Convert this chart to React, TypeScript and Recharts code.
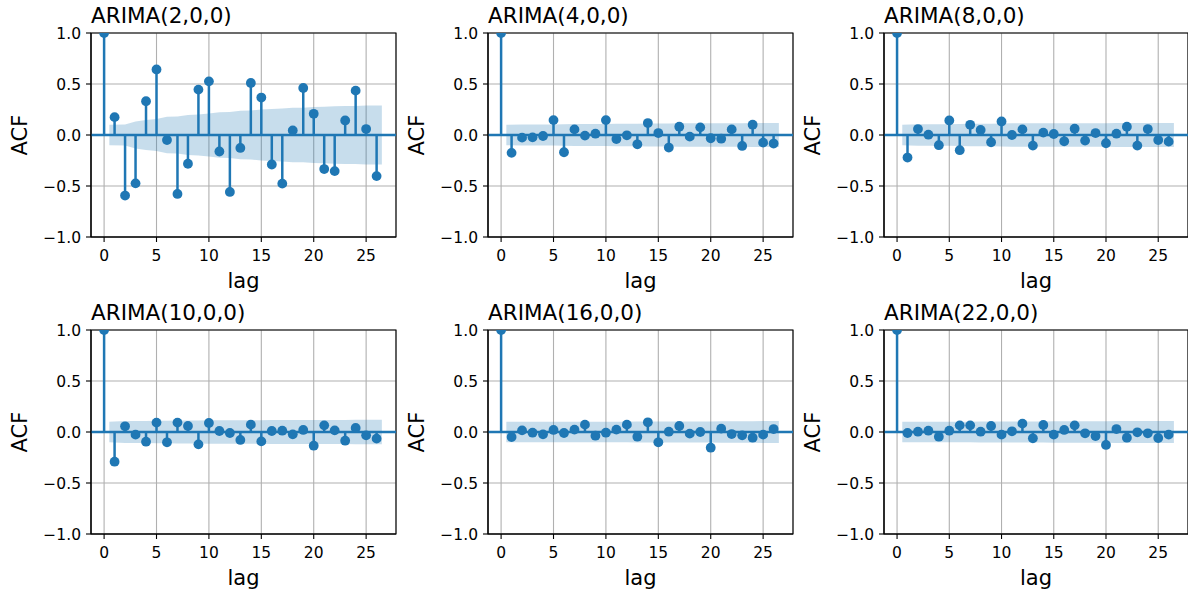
import React from 'react';
import { ComposedChart, Scatter, Area, XAxis, YAxis, CartesianGrid, ReferenceLine, ReferenceArea } from 'recharts';

const BLUE = '#1f77b4';
const FONT = '"DejaVu Sans", sans-serif';

const lags = [0, 1, 2, 3, 4, 5, 6, 7, 8, 9, 10, 11, 12, 13, 14, 15, 16, 17, 18, 19, 20, 21, 22, 23, 24, 25, 26];
const xTicks = [0, 5, 10, 15, 20, 25];
const yTicks = [-1, -0.5, 0, 0.5, 1];

const titles = ['ARIMA(2,0,0)', 'ARIMA(4,0,0)', 'ARIMA(8,0,0)', 'ARIMA(10,0,0)', 'ARIMA(16,0,0)', 'ARIMA(22,0,0)'];

// acf values, lags 0..26
const acf2 = [1, 0.175, -0.594, -0.474, 0.331, 0.643, -0.049, -0.578, -0.282, 0.445, 0.526, -0.162, -0.558, -0.127, 0.51, 0.367, -0.289, -0.477, 0.045, 0.461, 0.208, -0.334, -0.354, 0.143, 0.435, 0.058, -0.403];
const acf4 = [1, -0.175, -0.026, -0.023, -0.01, 0.146, -0.169, 0.055, -0.006, 0.013, 0.146, -0.039, -0.003, -0.091, 0.117, 0.019, -0.123, 0.081, -0.016, 0.075, -0.032, -0.036, 0.055, -0.107, 0.101, -0.075, -0.084];
const acf8 = [1, -0.221, 0.058, 0.003, -0.1, 0.143, -0.149, 0.1, 0.049, -0.071, 0.133, 0.0, 0.055, -0.104, 0.023, 0.01, -0.062, 0.062, -0.055, 0.019, -0.081, 0.013, 0.081, -0.104, 0.058, -0.049, -0.065];
const acf10 = [1, -0.291, 0.056, -0.026, -0.095, 0.092, -0.101, 0.092, 0.059, -0.121, 0.088, 0.01, -0.01, -0.078, 0.072, -0.092, 0.01, 0.013, -0.023, 0.02, -0.134, 0.065, 0.016, -0.085, 0.039, -0.033, -0.065];
const acf16 = [1, -0.049, 0.016, -0.007, -0.023, 0.02, -0.01, 0.023, 0.072, -0.036, -0.007, 0.023, 0.072, -0.046, 0.095, -0.101, 0.003, 0.059, -0.016, 0.0, -0.154, 0.033, -0.02, -0.033, -0.056, -0.026, 0.029];
const acf22 = [1, -0.01, 0.003, 0.013, -0.046, 0.013, 0.065, 0.065, 0.003, 0.059, -0.026, 0.007, 0.082, -0.062, 0.069, -0.026, 0.02, 0.065, -0.013, -0.039, -0.127, 0.029, -0.056, -0.003, -0.013, -0.059, -0.026];

// confidence band half width, lags 1..26
const band2 = [0.1, 0.103, 0.132, 0.148, 0.156, 0.18, 0.181, 0.197, 0.202, 0.212, 0.224, 0.226, 0.238, 0.24, 0.25, 0.255, 0.259, 0.267, 0.268, 0.275, 0.277, 0.281, 0.284, 0.285, 0.29, 0.29];
const band4 = [0.1, 0.103, 0.103, 0.103, 0.103, 0.106, 0.108, 0.108, 0.108, 0.108, 0.111, 0.111, 0.111, 0.112, 0.113, 0.113, 0.114, 0.115, 0.115, 0.115, 0.115, 0.115, 0.116, 0.117, 0.117, 0.117];
const band8 = [0.1, 0.105, 0.105, 0.105, 0.106, 0.108, 0.11, 0.111, 0.111, 0.112, 0.114, 0.114, 0.114, 0.115, 0.115, 0.115, 0.116, 0.116, 0.116, 0.116, 0.117, 0.117, 0.117, 0.118, 0.118, 0.118];
const band10 = [0.1, 0.109, 0.109, 0.109, 0.11, 0.111, 0.112, 0.113, 0.113, 0.114, 0.115, 0.115, 0.115, 0.115, 0.116, 0.117, 0.117, 0.117, 0.117, 0.117, 0.118, 0.118, 0.118, 0.119, 0.119, 0.119];
const band16 = [0.1, 0.1, 0.1, 0.1, 0.1, 0.1, 0.1, 0.1, 0.101, 0.101, 0.101, 0.101, 0.102, 0.102, 0.103, 0.104, 0.104, 0.104, 0.104, 0.104, 0.106, 0.106, 0.106, 0.106, 0.107, 0.107];
const band22 = [0.1, 0.1, 0.1, 0.1, 0.1, 0.101, 0.101, 0.102, 0.102, 0.103, 0.103, 0.103, 0.104, 0.104, 0.105, 0.105, 0.105, 0.106, 0.106, 0.106, 0.107, 0.107, 0.107, 0.107, 0.108, 0.108];

const acfs = [acf2, acf4, acf8, acf10, acf16, acf22];
const bands = [band2, band4, band8, band10, band16, band22];

// layout of the six axes
const colLeft = [91, 488, 884];
const colWidth = [305, 305, 304];
const rowTop = [33, 330];
const PLOT_H = 204;
const Y_W = 60;
const X_H = 60;
const M_T = 10;
const M_R = 6;
const X_DOMAIN = [-1.25, 27.85];

const fmt = (v: number) => v.toFixed(1).replace('-', '\u2212');

function AcfPanel({ title, acf, band, left, top, width }: { title: string; acf: number[]; band: number[]; left: number; top: number; width: number }) {
  const points = acf.map((v, i) => ({ lag: lags[i], acf: v }));
  const bandData = band.map((h, i) => {
    let x = lags[i + 1];
    if (i === 0) x -= 0.5;
    if (i === band.length - 1) x += 0.5;
    return { lag: x, range: [-h, h] };
  });

  return (
    <>
      <div style={{ position: 'absolute', left: left - Y_W, top: top - M_T }}>
        <ComposedChart
          width={Y_W + width + M_R}
          height={M_T + PLOT_H + X_H}
          margin={{ top: M_T, right: M_R, left: 0, bottom: 0 }}
        >
          <CartesianGrid stroke="#b0b0b0" strokeWidth={1.1} />
          <XAxis
            dataKey="lag"
            type="number"
            domain={X_DOMAIN}
            ticks={xTicks}
            allowDataOverflow
            height={X_H}
            tickSize={5}
            tickMargin={8}
            tick={{ fontSize: 15.5, fill: '#000', fontFamily: FONT }}
            axisLine={{ stroke: '#000', strokeWidth: 1.1 }}
            tickLine={{ stroke: '#000', strokeWidth: 1.1 }}
          />
          <YAxis
            type="number"
            domain={[-1, 1]}
            ticks={yTicks}
            allowDataOverflow
            width={Y_W}
            tickSize={5}
            tickMargin={5}
            tickFormatter={fmt}
            tick={{ fontSize: 15.5, fill: '#000', fontFamily: FONT }}
            axisLine={{ stroke: '#000', strokeWidth: 1.1 }}
            tickLine={{ stroke: '#000', strokeWidth: 1.1 }}
          />
          <ReferenceLine y={0} stroke={BLUE} strokeWidth={2.5} />
          {points.map((p) => (
            <ReferenceLine
              key={p.lag}
              segment={[{ x: p.lag, y: 0 }, { x: p.lag, y: p.acf }]}
              stroke={BLUE}
              strokeWidth={2.5}
            />
          ))}
          <Scatter
            data={points}
            dataKey="acf"
            isAnimationActive={false}
            shape={(s: any) => <circle cx={s.cx} cy={s.cy} r={4.9} fill={BLUE} />}
          />
          <Area
            data={bandData}
            dataKey="range"
            type="linear"
            stroke="none"
            fill={BLUE}
            fillOpacity={0.25}
            isAnimationActive={false}
            dot={false}
            activeDot={false}
          />
          <ReferenceArea
            x1={X_DOMAIN[0]}
            x2={X_DOMAIN[1]}
            y1={-1}
            y2={1}
            fill="none"
            stroke="#000"
            strokeWidth={1.1}
            ifOverflow="visible"
          />
        </ComposedChart>
      </div>
      <div style={{ position: 'absolute', left, top: top - 28.2, fontSize: 21.5, lineHeight: '21.5px', whiteSpace: 'nowrap' }}>
        {title}
      </div>
      <div
        style={{
          position: 'absolute',
          left: left - 71,
          top: top + PLOT_H / 2,
          fontSize: 21,
          lineHeight: '21px',
          whiteSpace: 'nowrap',
          transform: 'translate(-50%, -50%) rotate(-90deg)',
        }}
      >
        ACF
      </div>
      <div
        style={{
          position: 'absolute',
          left: left + width / 2,
          top: top + PLOT_H + 34,
          fontSize: 21,
          lineHeight: '21px',
          whiteSpace: 'nowrap',
          transform: 'translateX(-50%)',
        }}
      >
        lag
      </div>
    </>
  );
}

export default function App() {
  return (
    <div
      style={{
        position: 'absolute',
        left: 0,
        top: 0,
        width: 1188,
        height: 593,
        overflow: 'hidden',
        background: '#fff',
        fontFamily: FONT,
        color: '#000',
      }}
    >
      {titles.map((t, i) => {
        const r = Math.floor(i / 3);
        const c = i % 3;
        return (
          <AcfPanel
            key={t}
            title={t}
            acf={acfs[i]}
            band={bands[i]}
            left={colLeft[c]}
            top={rowTop[r]}
            width={colWidth[c]}
          />
        );
      })}
    </div>
  );
}
